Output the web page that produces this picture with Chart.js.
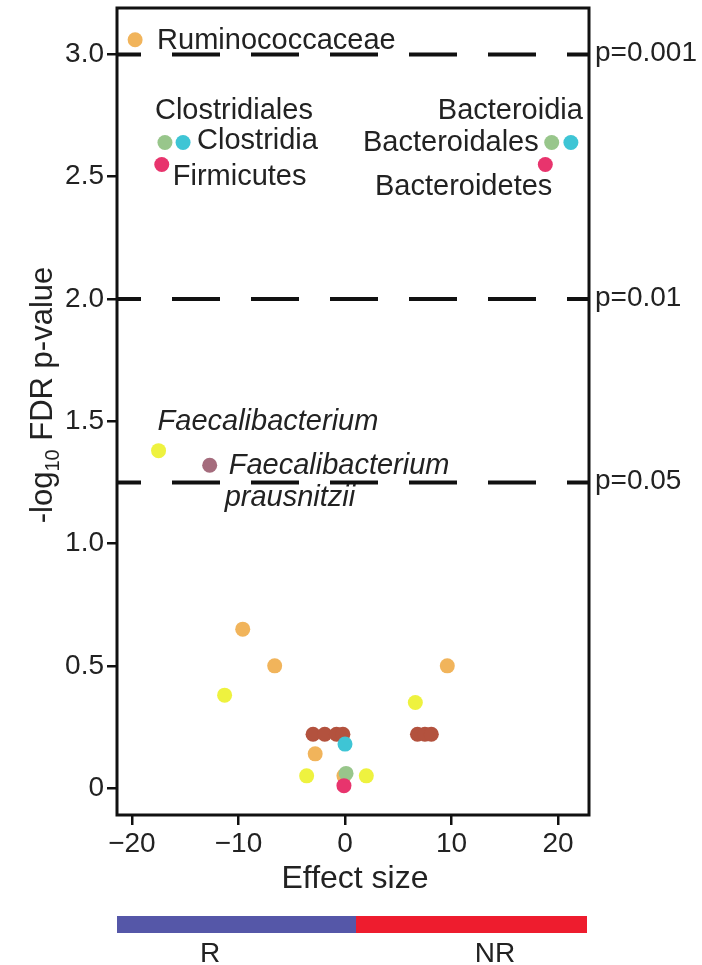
<!DOCTYPE html>
<html>
<head>
<meta charset="utf-8">
<script src="https://cdn.jsdelivr.net/npm/chart.js@4.4.0/dist/chart.umd.min.js"></script>
<style>
  html, body { margin: 0; padding: 0; background: #fff; }
  canvas { display: block; }
</style>
</head>
<body>
<canvas id="volcano" width="702" height="965"></canvas>
<script>
// --- DATA ---
const xTicks = [-20, -10, 0, 10, 20];
const yTicks = [0, 0.5, 1, 1.5, 2, 2.5, 3];
const xRange = [-21.4, 22.9];
const yRange = [-0.11, 3.19];

const pThresholds = [3, 2, 1.25];
const pLabels = ['p=0.001', 'p=0.01', 'p=0.05'];

// labelled taxa
const taxa = ['Ruminococcaceae', 'Clostridiales', 'Clostridia', 'Firmicutes',
  'Bacteroidia', 'Bacteroidales', 'Bacteroidetes',
  'Faecalibacterium', 'Faecalibacterium prausnitzii'];
const taxaEffect = [-19.7, -16.9, -15.2, -17.2, 21.2, 19.4, 18.8, -17.5, -12.7];
const taxaLogP = [3.06, 2.64, 2.64, 2.55, 2.64, 2.64, 2.55, 1.38, 1.32];
const taxaColor = ['#f1b45b', '#98c68b', '#3ec5d5', '#e8346d',
  '#3ec5d5', '#98c68b', '#e8346d', '#eef23f', '#a56c7d'];

// unlabelled taxa
const otherEffect = [-9.6, -6.6, -11.3, 9.6, 6.6,
  -3.0, -1.9, -0.8, -0.2, 6.8, 7.5, 8.1,
  0, -2.8, -3.6, 2.0, -0.1, 0.1, -0.1];
const otherLogP = [0.65, 0.50, 0.38, 0.50, 0.35,
  0.22, 0.22, 0.22, 0.22, 0.22, 0.22, 0.22,
  0.18, 0.14, 0.05, 0.05, 0.05, 0.06, 0.01];
const otherColor = ['#f1b45b', '#f1b45b', '#eef23f', '#f1b45b', '#eef23f',
  '#b3523e', '#b3523e', '#b3523e', '#b3523e', '#b3523e', '#b3523e', '#b3523e',
  '#3ec5d5', '#f1b45b', '#eef23f', '#eef23f', '#f1b45b', '#98c68b', '#e8346d'];

const groups = ['R', 'NR'];

// --- STYLE ---
const FONT = "'Liberation Sans', Arial, Helvetica, sans-serif";
const INK = '#222';

// label placement relative to each point (pixels)
const labelLayout = [
  { dx: 22, dy: 9, align: 'left' },
  { dx: -10, dy: -24, align: 'left' },
  { dx: 14, dy: 6, align: 'left' },
  { dx: 11, dy: 20, align: 'left' },
  { dx: 12, dy: -24, align: 'right' },
  { dx: -13, dy: 8, align: 'right' },
  { dx: 7, dy: 30, align: 'right' },
  { dx: -1, dy: -21, align: 'left', italic: true },
  { dx: 19, dy: 9, align: 'left', italic: true, lineGap: 32 }
];

const toPoints = (xs, ys) => xs.map((x, i) => ({ x: x, y: ys[i] }));

const thresholdSets = pThresholds.map(p => ({
  type: 'line',
  data: [{ x: xRange[0], y: p }, { x: xRange[1], y: p }],
  borderColor: '#111',
  borderWidth: 4,
  borderDash: [48, 31],
  borderDashOffset: 24,
  pointRadius: 0,
  order: 3
}));

// --- DECORATIONS ---
const decorPlugin = {
  id: 'decor',
  afterDraw(chart) {
    const ctx = chart.ctx;
    const a = chart.chartArea;
    const xs = chart.scales.x;
    const ys = chart.scales.y;
    ctx.save();

    // box
    ctx.strokeStyle = '#111';
    ctx.lineWidth = 3;
    ctx.strokeRect(a.left, a.top, a.right - a.left, a.bottom - a.top);

    // p-value labels on the right
    ctx.fillStyle = INK;
    ctx.font = '28px ' + FONT;
    ctx.textAlign = 'left';
    ctx.textBaseline = 'middle';
    pThresholds.forEach((p, i) => {
      ctx.fillText(pLabels[i], a.right + 6, ys.getPixelForValue(p) - 1);
    });

    // taxon labels
    ctx.textBaseline = 'alphabetic';
    taxa.forEach((name, i) => {
      const lay = labelLayout[i];
      const px = xs.getPixelForValue(taxaEffect[i]);
      const py = ys.getPixelForValue(taxaLogP[i]);
      ctx.font = (lay.italic ? 'italic ' : '') + '29px ' + FONT;
      ctx.textAlign = lay.align;
      if (lay.lineGap) {
        const parts = name.split(' ');
        ctx.fillText(parts[0], px + lay.dx, py + lay.dy);
        ctx.fillText(parts[1], px + lay.dx - 4, py + lay.dy + lay.lineGap);
      } else {
        ctx.fillText(name, px + lay.dx, py + lay.dy);
      }
    });

    // x title
    ctx.font = '32px ' + FONT;
    ctx.textAlign = 'center';
    ctx.fillText('Effect size', (a.left + a.right) / 2 + 2, 888);

    // y title with subscript
    ctx.translate(52, 395);
    ctx.rotate(-Math.PI / 2);
    const big = '31px ' + FONT;
    const small = '20px ' + FONT;
    ctx.font = big;
    const w1 = ctx.measureText('-log').width;
    const w3 = ctx.measureText(' FDR p-value').width;
    ctx.font = small;
    const w2 = ctx.measureText('10').width;
    let cx = -(w1 + w2 + w3) / 2;
    ctx.textAlign = 'left';
    ctx.font = big;
    ctx.fillText('-log', cx, 0);
    cx += w1;
    ctx.font = small;
    ctx.fillText('10', cx, 7);
    cx += w2;
    ctx.font = big;
    ctx.fillText(' FDR p-value', cx, 0);
    ctx.setTransform(1, 0, 0, 1, 0, 0);

    // response colour bar
    const barL = a.left, barR = a.right - 2;
    const mid = (barL + barR) / 2 + 4;
    ctx.fillStyle = '#5557a8';
    ctx.fillRect(barL, 916, mid - barL, 17);
    ctx.fillStyle = '#ee1c2e';
    ctx.fillRect(mid, 916, barR - mid, 17);
    ctx.fillStyle = INK;
    ctx.font = '28px ' + FONT;
    ctx.textAlign = 'center';
    ctx.fillText(groups[0], 210, 962);
    ctx.fillText(groups[1], 495, 962);

    ctx.restore();
  }
};

const axisGrid = {
  drawOnChartArea: false,
  drawTicks: true,
  tickLength: 10,
  color: '#111',
  lineWidth: 2.5
};

new Chart(document.getElementById('volcano'), {
  type: 'scatter',
  data: {
    datasets: [
      {
        data: toPoints(otherEffect, otherLogP),
        backgroundColor: otherColor,
        borderWidth: 0,
        pointRadius: 7.5,
        order: 2
      },
      {
        data: toPoints(taxaEffect, taxaLogP),
        backgroundColor: taxaColor,
        borderWidth: 0,
        pointRadius: 7.5,
        order: 1
      },
      ...thresholdSets
    ]
  },
  options: {
    responsive: false,
    animation: false,
    layout: { padding: { top: 8, right: 113, left: 0, bottom: 0 } },
    plugins: {
      legend: { display: false },
      tooltip: { enabled: false }
    },
    scales: {
      x: {
        type: 'linear',
        min: xRange[0],
        max: xRange[1],
        afterBuildTicks: s => { s.ticks = xTicks.map(v => ({ value: v })); },
        afterFit: s => { s.height = 150; s.paddingLeft = 0; s.paddingRight = 0; },
        grid: axisGrid,
        border: { display: false },
        ticks: {
          color: INK,
          padding: 2,
          font: { family: FONT, size: 28 },
          callback: v => (v < 0 ? '\u2212' + Math.abs(v) : String(v))
        }
      },
      y: {
        type: 'linear',
        min: yRange[0],
        max: yRange[1],
        afterBuildTicks: s => { s.ticks = yTicks.map(v => ({ value: v })); },
        afterFit: s => { s.width = 117; s.paddingTop = 0; s.paddingBottom = 0; },
        grid: axisGrid,
        border: { display: false },
        ticks: {
          color: INK,
          padding: 3,
          font: { family: FONT, size: 28 },
          callback: v => (v === 0 ? '0' : v.toFixed(1))
        }
      }
    }
  },
  plugins: [decorPlugin]
});
</script>
</body>
</html>
